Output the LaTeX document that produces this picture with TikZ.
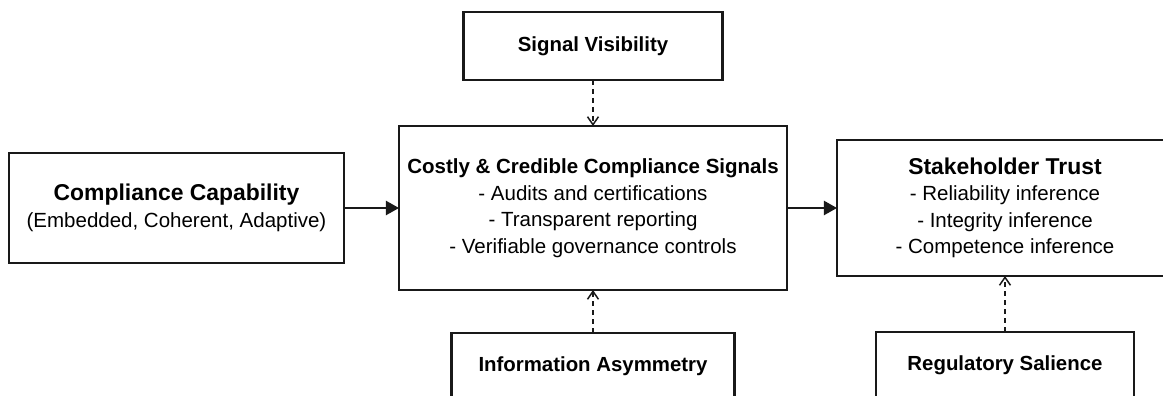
\documentclass[tikz,border=0pt]{standalone}
\usepackage{fontspec}
\setsansfont{Liberation Sans}
\usetikzlibrary{positioning, arrows.meta}

% larger bold heading inside a box
\newcommand{\boxhead}[1]{{\fontsize{22.9}{26.5}\selectfont\bfseries #1}}

\begin{document}
\begin{tikzpicture}[
        font=\sffamily\fontsize{20.5}{26.5}\selectfont,
        % Styles
        box/.style={draw=black!90, line width=2.2pt, fill=white, align=center, inner sep=4pt, outer sep=0pt},
        arrow/.style={-{Triangle[length=13pt, width=14pt]}, line width=2.2pt, draw=black!90},
        moderator/.style={-{Straight Barb[length=8pt, width=11pt, line width=1.5pt]}, line width=1.7pt, dash pattern=on 5pt off 4pt, draw=black!90}
    ]

    % Frame
    \useasboundingbox (-593pt,-188pt) rectangle (570pt,208pt);
    \clip (-593pt,-188pt) rectangle (570pt,208pt);

    % Main chain
    \node[box, minimum width=388pt, minimum height=164pt] (signals) {\textbf{Costly \& Credible Compliance Signals}\\- Audits and certifications\\- Transparent reporting\\- Verifiable governance controls};
    \node[box, minimum width=335pt, minimum height=110pt, left=55pt of signals] (capability) {\boxhead{Compliance Capability}\\(Embedded, Coherent, Adaptive)};
    \node[box, minimum width=336pt, minimum height=136pt, right=50pt of signals] (trust) {\boxhead{Stakeholder Trust}\\- Reliability inference\\- Integrity inference\\- Competence inference};
    \draw[arrow] (capability) -- (signals);
    \draw[arrow] (signals) -- (trust);

    % Moderators
    \node[box, font=\sffamily\bfseries\fontsize{20.4}{24}\selectfont, minimum width=259pt, minimum height=68pt, above=46pt of signals] (visibility) {Signal Visibility};
    \node[box, font=\sffamily\bfseries\fontsize{20.4}{24}\selectfont, minimum width=283pt, minimum height=66pt, below=43pt of signals] (asymmetry) {Information Asymmetry};
    \node[box, font=\sffamily\bfseries\fontsize{20.4}{24}\selectfont, minimum width=258pt, minimum height=66pt, below=56pt of trust] (salience) {Regulatory Salience};
    \draw[moderator] (visibility) -- (signals);
    \draw[moderator] (asymmetry) -- (signals);
    \draw[moderator] (salience) -- (trust);

\end{tikzpicture}
\end{document}
